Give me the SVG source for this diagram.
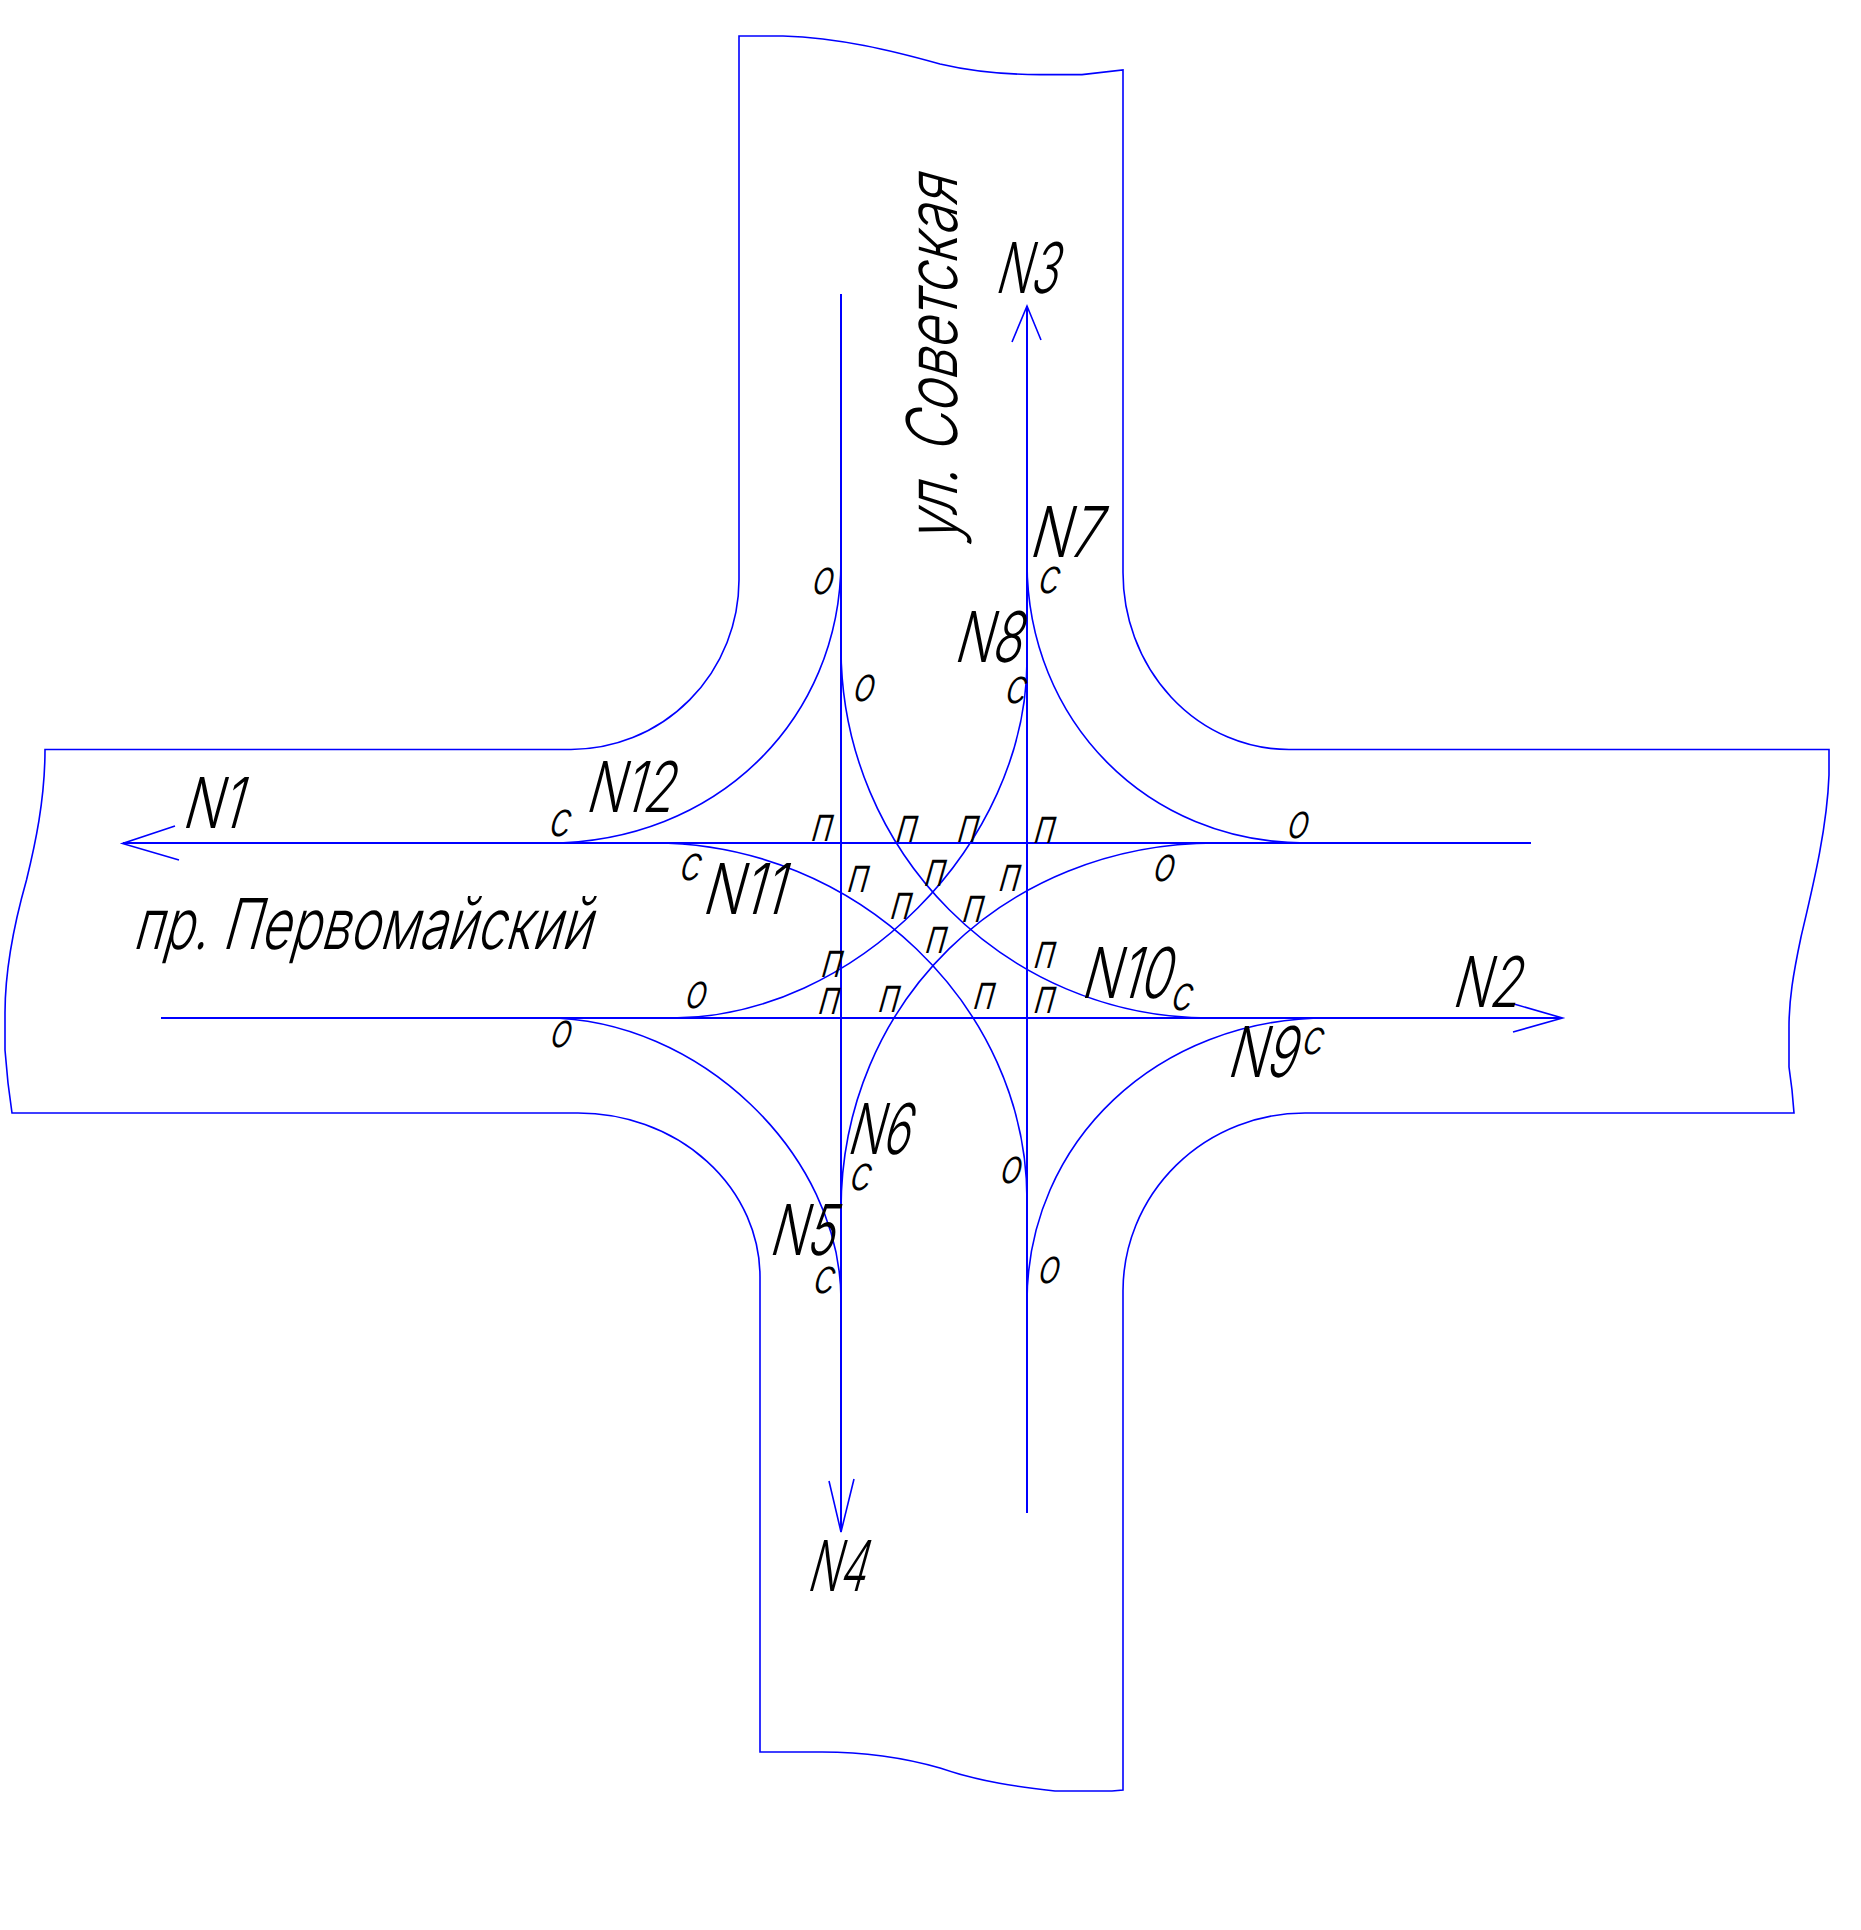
<svg xmlns="http://www.w3.org/2000/svg" width="1861" height="1930" viewBox="0 0 1861 1930">
<style>
.l{fill:none;stroke:#0000ff;stroke-width:2;shape-rendering:crispEdges}
.a{fill:none;stroke:#0000ff;stroke-width:1.6}
.r{fill:none;stroke:#0000ff;stroke-width:1.6}
text{font-family:"Inter","Roboto","Liberation Sans",sans-serif;font-weight:300;fill:#000;}
.b{font-size:70px}
.s{font-size:48px}
</style>
<rect width="1861" height="1930" fill="#fff"/>
<g id="roads">
<path class="r" d="M739,36 L783,36 C840,38 890,50 940,64 C970,71 1000,74.6 1040,74.6 L1082,74.6 1123,70 L1123,572 A166,177 0 0 0 1289,749.5 L1829,749.5 1829,775 C1827,830 1812,890 1801,937 C1793,975 1789,1000 1789,1027 L1789,1067 1792,1090 1794,1113 L1305,1113 A182,178 0 0 0 1123,1291 L1123,1790 1112,1791 1055,1791 C1020,1787 980,1782 940,1768 C905,1758 870,1752 822,1752 L760,1752 L760,1277 A182,164 0 0 0 578,1113 L12,1113 8,1083 5,1050 5,1013 C5,960 18,910 26.5,880 C35,845 45,800 45,749.5 L571,749.5 A168,170 0 0 0 739,580 Z"/>
</g>
<g id="connectors">
<path class="l" d="M123,843 H1531"/>
<path class="l" d="M161,1018 H1562"/>
<path class="l" d="M841,293.5 V1532"/>
<path class="l" d="M1027,306 V1513"/>
<path class="a" d="M175,826 L122.5,843.5 179,860"/>
<path class="a" d="M1514,1004 L1562.5,1018 1513,1032"/>
<path class="a" d="M1012,342 L1027,306 1041,340"/>
<path class="a" d="M829,1481 L841,1532 854,1479"/>
<path id="n12" class="a" d="M841,560 C841,721 715,843 548,843"/>
<path id="n7" class="a" d="M1027,562 C1027,721 1147,843 1306,843"/>
<path id="n8" class="a" d="M1027,660 C1027,844 854,1018 672,1018"/>
<path id="n6" class="a" d="M841,1210 C841,1003 1004,843 1216,843"/>
<path id="n11" class="a" d="M654,843 C856,843 1027,1006 1027,1200"/>
<path id="n10" class="a" d="M841,648 C841,852 1006,1018 1210,1018"/>
<path id="n5" class="a" d="M546,1018 C698,1018 841,1154 841,1300"/>
<path id="n9" class="a" d="M1027,1302 C1027,1141 1158,1018 1328,1018"/>
</g>
<g id="street-names">
<text class="b" transform="translate(132,949) skewX(-15.5)" textLength="458" lengthAdjust="spacingAndGlyphs">пр. Первомайский</text>
<text class="b" transform="translate(957,544) rotate(-90) skewX(-15.5)" textLength="367" lengthAdjust="spacingAndGlyphs">ул. Советская</text>
</g>
<g id="flow-labels">
<text class="b" transform="translate(181,828) skewX(-15.5)" textLength="59" lengthAdjust="spacingAndGlyphs">N1</text>
<text class="b" transform="translate(1451,1007) skewX(-15.5)" textLength="67" lengthAdjust="spacingAndGlyphs">N2</text>
<text class="b" transform="translate(994,293) skewX(-15.5)" textLength="62" lengthAdjust="spacingAndGlyphs">N3</text>
<text class="b" transform="translate(806,1591) skewX(-15.5)" textLength="58" lengthAdjust="spacingAndGlyphs">N4</text>
<text class="b" transform="translate(768,1255) skewX(-15.5)" textLength="65" lengthAdjust="spacingAndGlyphs">N5</text>
<text class="b" transform="translate(846,1153.5) skewX(-15.5)" textLength="62" lengthAdjust="spacingAndGlyphs">N6</text>
<text class="b" transform="translate(1028,557) skewX(-15.5)" textLength="70" lengthAdjust="spacingAndGlyphs">N7</text>
<text class="b" transform="translate(953,661.5) skewX(-15.5)" textLength="67" lengthAdjust="spacingAndGlyphs">N8</text>
<text class="b" transform="translate(1226,1077) skewX(-15.5)" textLength="68" lengthAdjust="spacingAndGlyphs">N9</text>
<text class="b" transform="translate(1080,998) skewX(-15.5)" textLength="89" lengthAdjust="spacingAndGlyphs">N10</text>
<text class="b" transform="translate(701,913.5) skewX(-15.5)" textLength="81" lengthAdjust="spacingAndGlyphs">N11</text>
<text class="b" transform="translate(584.6,812) skewX(-15.5)" textLength="87" lengthAdjust="spacingAndGlyphs">N12</text>
</g>
<g id="movement-labels">
<text class="s" transform="translate(810,593.6) skewX(-15.5)" textLength="21" lengthAdjust="spacingAndGlyphs">о</text>
<text class="s" transform="translate(851,701) skewX(-15.5)" textLength="21" lengthAdjust="spacingAndGlyphs">о</text>
<text class="s" transform="translate(1003,703) skewX(-15.5)" textLength="21" lengthAdjust="spacingAndGlyphs">с</text>
<text class="s" transform="translate(1036,593) skewX(-15.5)" textLength="21" lengthAdjust="spacingAndGlyphs">с</text>
<text class="s" transform="translate(547,836) skewX(-15.5)" textLength="21" lengthAdjust="spacingAndGlyphs">с</text>
<text class="s" transform="translate(1285,837.5) skewX(-15.5)" textLength="21" lengthAdjust="spacingAndGlyphs">о</text>
<text class="s" transform="translate(677.5,879.6) skewX(-15.5)" textLength="21" lengthAdjust="spacingAndGlyphs">с</text>
<text class="s" transform="translate(1151,881) skewX(-15.5)" textLength="21" lengthAdjust="spacingAndGlyphs">о</text>
<text class="s" transform="translate(683,1008) skewX(-15.5)" textLength="21" lengthAdjust="spacingAndGlyphs">о</text>
<text class="s" transform="translate(548,1047) skewX(-15.5)" textLength="21" lengthAdjust="spacingAndGlyphs">о</text>
<text class="s" transform="translate(1169,1009.5) skewX(-15.5)" textLength="21" lengthAdjust="spacingAndGlyphs">с</text>
<text class="s" transform="translate(1300,1054) skewX(-15.5)" textLength="21" lengthAdjust="spacingAndGlyphs">с</text>
<text class="s" transform="translate(847.5,1190) skewX(-15.5)" textLength="21" lengthAdjust="spacingAndGlyphs">с</text>
<text class="s" transform="translate(998,1182.6) skewX(-15.5)" textLength="21" lengthAdjust="spacingAndGlyphs">о</text>
<text class="s" transform="translate(811,1293) skewX(-15.5)" textLength="21" lengthAdjust="spacingAndGlyphs">с</text>
<text class="s" transform="translate(1036,1283) skewX(-15.5)" textLength="21" lengthAdjust="spacingAndGlyphs">о</text>
<text class="s" transform="translate(809,841) skewX(-15.5)" textLength="21" lengthAdjust="spacingAndGlyphs">п</text>
<text class="s" transform="translate(893.5,842) skewX(-15.5)" textLength="21" lengthAdjust="spacingAndGlyphs">п</text>
<text class="s" transform="translate(955,842) skewX(-15.5)" textLength="21" lengthAdjust="spacingAndGlyphs">п</text>
<text class="s" transform="translate(1031.6,843) skewX(-15.5)" textLength="21" lengthAdjust="spacingAndGlyphs">п</text>
<text class="s" transform="translate(845,892) skewX(-15.5)" textLength="21" lengthAdjust="spacingAndGlyphs">п</text>
<text class="s" transform="translate(922,886) skewX(-15.5)" textLength="21" lengthAdjust="spacingAndGlyphs">п</text>
<text class="s" transform="translate(996.5,891) skewX(-15.5)" textLength="21" lengthAdjust="spacingAndGlyphs">п</text>
<text class="s" transform="translate(888,919) skewX(-15.5)" textLength="21" lengthAdjust="spacingAndGlyphs">п</text>
<text class="s" transform="translate(960,922) skewX(-15.5)" textLength="21" lengthAdjust="spacingAndGlyphs">п</text>
<text class="s" transform="translate(923,953) skewX(-15.5)" textLength="21" lengthAdjust="spacingAndGlyphs">п</text>
<text class="s" transform="translate(1031.6,968) skewX(-15.5)" textLength="21" lengthAdjust="spacingAndGlyphs">п</text>
<text class="s" transform="translate(819,976.6) skewX(-15.5)" textLength="21" lengthAdjust="spacingAndGlyphs">п</text>
<text class="s" transform="translate(816,1014) skewX(-15.5)" textLength="21" lengthAdjust="spacingAndGlyphs">п</text>
<text class="s" transform="translate(876,1012) skewX(-15.5)" textLength="21" lengthAdjust="spacingAndGlyphs">п</text>
<text class="s" transform="translate(971,1009) skewX(-15.5)" textLength="21" lengthAdjust="spacingAndGlyphs">п</text>
<text class="s" transform="translate(1031.6,1013) skewX(-15.5)" textLength="21" lengthAdjust="spacingAndGlyphs">п</text>
</g>
</svg>
